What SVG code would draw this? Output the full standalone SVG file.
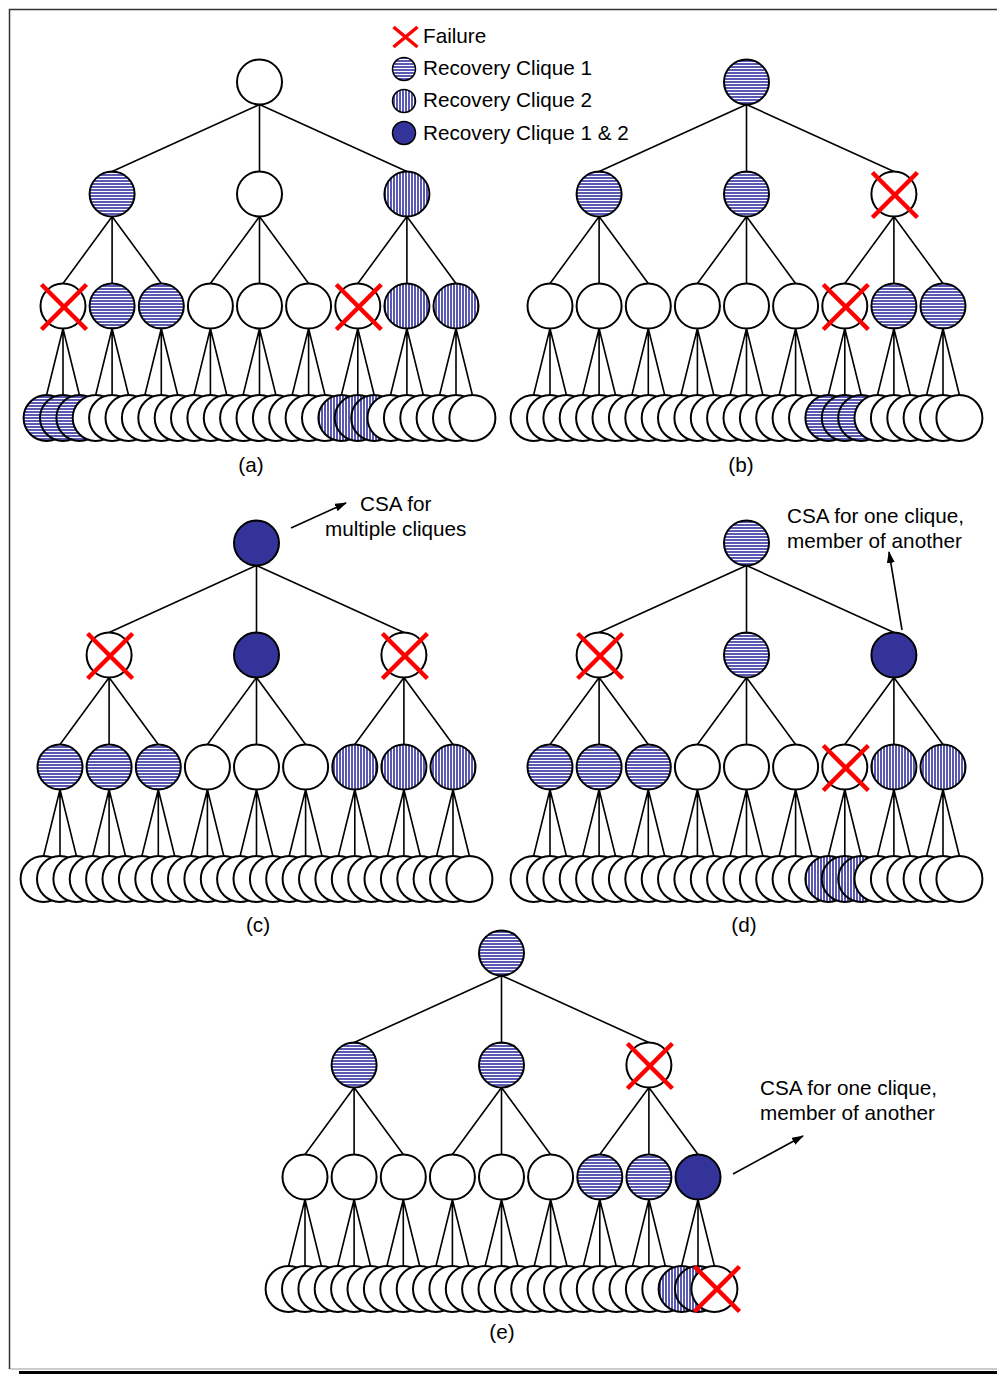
<svg xmlns="http://www.w3.org/2000/svg" xmlns:xlink="http://www.w3.org/1999/xlink" width="997" height="1374" viewBox="0 0 997 1374">
  <style>
    circle { stroke: #000; stroke-width: 2; }
    .w { fill: #fff; }
    .h { fill: url(#hstripe); }
    .v { fill: url(#vstripe); }
    .d { fill: #333399; }
    .x { stroke: #ff0000; stroke-width: 4.5; fill: none; stroke-linecap: butt; }
    .link { stroke: #000; stroke-width: 1.6; fill: none; }
    .arrow { stroke: #000; stroke-width: 1.6; fill: none; marker-end: url(#head); }
    text { font-family: "Liberation Sans", Arial, sans-serif; font-size: 20.7px; fill: #000; }
    .cap { text-anchor: middle; }
  </style>
  <defs>
    <pattern id="hstripe" width="6" height="3" patternUnits="userSpaceOnUse">
      <rect width="6" height="3" fill="#ffffff"/>
      <rect width="6" height="2" fill="#5a5ab2"/>
    </pattern>
    <pattern id="vstripe" width="3" height="6" patternUnits="userSpaceOnUse">
      <rect width="3" height="6" fill="#ffffff"/>
      <rect width="2" height="6" fill="#5a5ab2"/>
    </pattern>
    <marker id="head" viewBox="0 0 12 8" refX="11" refY="4" markerWidth="12" markerHeight="8" markerUnits="userSpaceOnUse" orient="auto">
      <path d="M0,0 L12,4 L0,8 z" fill="#000"/>
    </marker>
    <path id="fail" class="x" d="M-22.5,-22.5 L22.5,22.5 M22.5,-22.5 L-22.5,22.5"/>
    <!-- edges of one 3-ary tree of depth 3, local coordinates -->
    <path id="tree-edges" class="link" d="
      M259.5,104.5 L112.1,171.5 M259.5,104.5 V171.5 M259.5,104.5 L406.9,171.5
      M112.1,216.5 L63,283.5 M112.1,216.5 V283.5 M112.1,216.5 L161.3,283.5
      M259.5,216.5 L210.4,283.5 M259.5,216.5 V283.5 M259.5,216.5 L308.6,283.5
      M406.9,216.5 L357.8,283.5 M406.9,216.5 V283.5 M406.9,216.5 L456,283.5
      M63,328.5 L46.6,395 M63,328.5 V395 M63,328.5 L79.4,395
      M112.1,328.5 L95.7,395 M112.1,328.5 V395 M112.1,328.5 L128.5,395
      M161.3,328.5 L144.9,395 M161.3,328.5 V395 M161.3,328.5 L177.7,395
      M210.4,328.5 L194,395 M210.4,328.5 V395 M210.4,328.5 L226.8,395
      M259.5,328.5 L243.1,395 M259.5,328.5 V395 M259.5,328.5 L275.9,395
      M308.6,328.5 L292.2,395 M308.6,328.5 V395 M308.6,328.5 L325,395
      M357.8,328.5 L341.4,395 M357.8,328.5 V395 M357.8,328.5 L374.2,395
      M406.9,328.5 L390.5,395 M406.9,328.5 V395 M406.9,328.5 L423.3,395
      M456,328.5 L439.6,395 M456,328.5 V395 M456,328.5 L472.4,395"/>
  </defs>

  <!-- page frame -->
  <g id="frame">
    <path d="M9.5,1369 V9.5 H997" fill="none" stroke="#333" stroke-width="1.5"/>
    <line x1="10" y1="1369" x2="997" y2="1369" stroke="#999" stroke-width="1.2"/>
    <rect x="19" y="1371" width="978" height="3" fill="#000"/>
  </g>

  <!-- legend -->
  <g id="legend">
    <path class="x" style="stroke-width:3.5" d="M393.5,27 L417.5,47 M417.5,27 L393.5,47"/>
    <text x="423" y="43">Failure</text>
    <circle class="h" cx="404" cy="69" r="11.5" style="stroke-width:1.5"/>
    <text x="423" y="75">Recovery Clique 1</text>
    <circle class="v" cx="404" cy="101" r="11.5" style="stroke-width:1.5"/>
    <text x="423" y="107">Recovery Clique 2</text>
    <circle class="d" cx="404" cy="133" r="11.5" style="stroke-width:1.5"/>
    <text x="423" y="140">Recovery Clique 1 &amp; 2</text>
  </g>

  <!-- connectors -->
  <g id="connectors">
    <use xlink:href="#tree-edges" href="#tree-edges"/>
    <use xlink:href="#tree-edges" href="#tree-edges" transform="translate(487,0)"/>
    <use xlink:href="#tree-edges" href="#tree-edges" transform="translate(-3,461)"/>
    <use xlink:href="#tree-edges" href="#tree-edges" transform="translate(487,461)"/>
    <use xlink:href="#tree-edges" href="#tree-edges" transform="translate(242,871)"/>
    <line class="arrow" x1="291" y1="528" x2="346" y2="503"/>
    <line class="arrow" x1="902" y1="630" x2="889" y2="552"/>
    <line class="arrow" x1="733" y1="1174" x2="803" y2="1136"/>
  </g>

  <!-- tree (a) -->
  <g id="tree-a">
    <g id="a-r"><circle class="w" cx="259.5" cy="82" r="22.5"/></g>
    <g id="a-m0"><circle class="h" cx="112.1" cy="194" r="22.5"/></g>
    <g id="a-m1"><circle class="w" cx="259.5" cy="194" r="22.5"/></g>
    <g id="a-m2"><circle class="v" cx="406.9" cy="194" r="22.5"/></g>
    <g id="a-n0"><circle class="w" cx="63" cy="306" r="22.5"/><use href="#fail" xlink:href="#fail" x="64" y="307"/></g>
    <g id="a-n1"><circle class="h" cx="112.1" cy="306" r="22.5"/></g>
    <g id="a-n2"><circle class="h" cx="161.3" cy="306" r="22.5"/></g>
    <g id="a-n3"><circle class="w" cx="210.4" cy="306" r="22.5"/></g>
    <g id="a-n4"><circle class="w" cx="259.5" cy="306" r="22.5"/></g>
    <g id="a-n5"><circle class="w" cx="308.6" cy="306" r="22.5"/></g>
    <g id="a-n6"><circle class="w" cx="357.8" cy="306" r="22.5"/><use href="#fail" xlink:href="#fail" x="358.8" y="307"/></g>
    <g id="a-n7"><circle class="v" cx="406.9" cy="306" r="22.5"/></g>
    <g id="a-n8"><circle class="v" cx="456" cy="306" r="22.5"/></g>
    <g id="a-f0"><circle class="h" cx="46.6" cy="418" r="23"/></g>
    <g id="a-f1"><circle class="h" cx="63" cy="418" r="23"/></g>
    <g id="a-f2"><circle class="h" cx="79.4" cy="418" r="23"/></g>
    <g id="a-f3"><circle class="w" cx="95.7" cy="418" r="23"/></g>
    <g id="a-f4"><circle class="w" cx="112.1" cy="418" r="23"/></g>
    <g id="a-f5"><circle class="w" cx="128.5" cy="418" r="23"/></g>
    <g id="a-f6"><circle class="w" cx="144.9" cy="418" r="23"/></g>
    <g id="a-f7"><circle class="w" cx="161.3" cy="418" r="23"/></g>
    <g id="a-f8"><circle class="w" cx="177.7" cy="418" r="23"/></g>
    <g id="a-f9"><circle class="w" cx="194" cy="418" r="23"/></g>
    <g id="a-f10"><circle class="w" cx="210.4" cy="418" r="23"/></g>
    <g id="a-f11"><circle class="w" cx="226.8" cy="418" r="23"/></g>
    <g id="a-f12"><circle class="w" cx="243.1" cy="418" r="23"/></g>
    <g id="a-f13"><circle class="w" cx="259.5" cy="418" r="23"/></g>
    <g id="a-f14"><circle class="w" cx="275.9" cy="418" r="23"/></g>
    <g id="a-f15"><circle class="w" cx="292.2" cy="418" r="23"/></g>
    <g id="a-f16"><circle class="w" cx="308.6" cy="418" r="23"/></g>
    <g id="a-f17"><circle class="w" cx="325" cy="418" r="23"/></g>
    <g id="a-f18"><circle class="v" cx="341.4" cy="418" r="23"/></g>
    <g id="a-f19"><circle class="v" cx="357.8" cy="418" r="23"/></g>
    <g id="a-f20"><circle class="v" cx="374.2" cy="418" r="23"/></g>
    <g id="a-f21"><circle class="w" cx="390.5" cy="418" r="23"/></g>
    <g id="a-f22"><circle class="w" cx="406.9" cy="418" r="23"/></g>
    <g id="a-f23"><circle class="w" cx="423.3" cy="418" r="23"/></g>
    <g id="a-f24"><circle class="w" cx="439.6" cy="418" r="23"/></g>
    <g id="a-f25"><circle class="w" cx="456" cy="418" r="23"/></g>
    <g id="a-f26"><circle class="w" cx="472.4" cy="418" r="23"/></g>
    <text class="cap" x="251" y="472">(a)</text>
  </g>

  <!-- tree (b) -->
  <g id="tree-b" transform="translate(487,0)">
    <g id="b-r"><circle class="h" cx="259.5" cy="82" r="22.5"/></g>
    <g id="b-m0"><circle class="h" cx="112.1" cy="194" r="22.5"/></g>
    <g id="b-m1"><circle class="h" cx="259.5" cy="194" r="22.5"/></g>
    <g id="b-m2"><circle class="w" cx="406.9" cy="194" r="22.5"/><use href="#fail" xlink:href="#fail" x="407.9" y="195"/></g>
    <g id="b-n0"><circle class="w" cx="63" cy="306" r="22.5"/></g>
    <g id="b-n1"><circle class="w" cx="112.1" cy="306" r="22.5"/></g>
    <g id="b-n2"><circle class="w" cx="161.3" cy="306" r="22.5"/></g>
    <g id="b-n3"><circle class="w" cx="210.4" cy="306" r="22.5"/></g>
    <g id="b-n4"><circle class="w" cx="259.5" cy="306" r="22.5"/></g>
    <g id="b-n5"><circle class="w" cx="308.6" cy="306" r="22.5"/></g>
    <g id="b-n6"><circle class="w" cx="357.8" cy="306" r="22.5"/><use href="#fail" xlink:href="#fail" x="358.8" y="307"/></g>
    <g id="b-n7"><circle class="h" cx="406.9" cy="306" r="22.5"/></g>
    <g id="b-n8"><circle class="h" cx="456" cy="306" r="22.5"/></g>
    <g id="b-f0"><circle class="w" cx="46.6" cy="418" r="23"/></g>
    <g id="b-f1"><circle class="w" cx="63" cy="418" r="23"/></g>
    <g id="b-f2"><circle class="w" cx="79.4" cy="418" r="23"/></g>
    <g id="b-f3"><circle class="w" cx="95.7" cy="418" r="23"/></g>
    <g id="b-f4"><circle class="w" cx="112.1" cy="418" r="23"/></g>
    <g id="b-f5"><circle class="w" cx="128.5" cy="418" r="23"/></g>
    <g id="b-f6"><circle class="w" cx="144.9" cy="418" r="23"/></g>
    <g id="b-f7"><circle class="w" cx="161.3" cy="418" r="23"/></g>
    <g id="b-f8"><circle class="w" cx="177.7" cy="418" r="23"/></g>
    <g id="b-f9"><circle class="w" cx="194" cy="418" r="23"/></g>
    <g id="b-f10"><circle class="w" cx="210.4" cy="418" r="23"/></g>
    <g id="b-f11"><circle class="w" cx="226.8" cy="418" r="23"/></g>
    <g id="b-f12"><circle class="w" cx="243.1" cy="418" r="23"/></g>
    <g id="b-f13"><circle class="w" cx="259.5" cy="418" r="23"/></g>
    <g id="b-f14"><circle class="w" cx="275.9" cy="418" r="23"/></g>
    <g id="b-f15"><circle class="w" cx="292.2" cy="418" r="23"/></g>
    <g id="b-f16"><circle class="w" cx="308.6" cy="418" r="23"/></g>
    <g id="b-f17"><circle class="w" cx="325" cy="418" r="23"/></g>
    <g id="b-f18"><circle class="h" cx="341.4" cy="418" r="23"/></g>
    <g id="b-f19"><circle class="h" cx="357.8" cy="418" r="23"/></g>
    <g id="b-f20"><circle class="h" cx="374.2" cy="418" r="23"/></g>
    <g id="b-f21"><circle class="w" cx="390.5" cy="418" r="23"/></g>
    <g id="b-f22"><circle class="w" cx="406.9" cy="418" r="23"/></g>
    <g id="b-f23"><circle class="w" cx="423.3" cy="418" r="23"/></g>
    <g id="b-f24"><circle class="w" cx="439.6" cy="418" r="23"/></g>
    <g id="b-f25"><circle class="w" cx="456" cy="418" r="23"/></g>
    <g id="b-f26"><circle class="w" cx="472.4" cy="418" r="23"/></g>
    <text class="cap" x="254" y="472">(b)</text>
  </g>

  <!-- tree (c) -->
  <g id="tree-c" transform="translate(-3,461)">
    <g id="c-r"><circle class="d" cx="259.5" cy="82" r="22.5"/></g>
    <g id="c-m0"><circle class="w" cx="112.1" cy="194" r="22.5"/><use href="#fail" xlink:href="#fail" x="113.1" y="195"/></g>
    <g id="c-m1"><circle class="d" cx="259.5" cy="194" r="22.5"/></g>
    <g id="c-m2"><circle class="w" cx="406.9" cy="194" r="22.5"/><use href="#fail" xlink:href="#fail" x="407.9" y="195"/></g>
    <g id="c-n0"><circle class="h" cx="63" cy="306" r="22.5"/></g>
    <g id="c-n1"><circle class="h" cx="112.1" cy="306" r="22.5"/></g>
    <g id="c-n2"><circle class="h" cx="161.3" cy="306" r="22.5"/></g>
    <g id="c-n3"><circle class="w" cx="210.4" cy="306" r="22.5"/></g>
    <g id="c-n4"><circle class="w" cx="259.5" cy="306" r="22.5"/></g>
    <g id="c-n5"><circle class="w" cx="308.6" cy="306" r="22.5"/></g>
    <g id="c-n6"><circle class="v" cx="357.8" cy="306" r="22.5"/></g>
    <g id="c-n7"><circle class="v" cx="406.9" cy="306" r="22.5"/></g>
    <g id="c-n8"><circle class="v" cx="456" cy="306" r="22.5"/></g>
    <g id="c-f0"><circle class="w" cx="46.6" cy="418" r="23"/></g>
    <g id="c-f1"><circle class="w" cx="63" cy="418" r="23"/></g>
    <g id="c-f2"><circle class="w" cx="79.4" cy="418" r="23"/></g>
    <g id="c-f3"><circle class="w" cx="95.7" cy="418" r="23"/></g>
    <g id="c-f4"><circle class="w" cx="112.1" cy="418" r="23"/></g>
    <g id="c-f5"><circle class="w" cx="128.5" cy="418" r="23"/></g>
    <g id="c-f6"><circle class="w" cx="144.9" cy="418" r="23"/></g>
    <g id="c-f7"><circle class="w" cx="161.3" cy="418" r="23"/></g>
    <g id="c-f8"><circle class="w" cx="177.7" cy="418" r="23"/></g>
    <g id="c-f9"><circle class="w" cx="194" cy="418" r="23"/></g>
    <g id="c-f10"><circle class="w" cx="210.4" cy="418" r="23"/></g>
    <g id="c-f11"><circle class="w" cx="226.8" cy="418" r="23"/></g>
    <g id="c-f12"><circle class="w" cx="243.1" cy="418" r="23"/></g>
    <g id="c-f13"><circle class="w" cx="259.5" cy="418" r="23"/></g>
    <g id="c-f14"><circle class="w" cx="275.9" cy="418" r="23"/></g>
    <g id="c-f15"><circle class="w" cx="292.2" cy="418" r="23"/></g>
    <g id="c-f16"><circle class="w" cx="308.6" cy="418" r="23"/></g>
    <g id="c-f17"><circle class="w" cx="325" cy="418" r="23"/></g>
    <g id="c-f18"><circle class="w" cx="341.4" cy="418" r="23"/></g>
    <g id="c-f19"><circle class="w" cx="357.8" cy="418" r="23"/></g>
    <g id="c-f20"><circle class="w" cx="374.2" cy="418" r="23"/></g>
    <g id="c-f21"><circle class="w" cx="390.5" cy="418" r="23"/></g>
    <g id="c-f22"><circle class="w" cx="406.9" cy="418" r="23"/></g>
    <g id="c-f23"><circle class="w" cx="423.3" cy="418" r="23"/></g>
    <g id="c-f24"><circle class="w" cx="439.6" cy="418" r="23"/></g>
    <g id="c-f25"><circle class="w" cx="456" cy="418" r="23"/></g>
    <g id="c-f26"><circle class="w" cx="472.4" cy="418" r="23"/></g>
    <text class="cap" x="261" y="471">(c)</text>
  </g>

  <!-- tree (d) -->
  <g id="tree-d" transform="translate(487,461)">
    <g id="d-r"><circle class="h" cx="259.5" cy="82" r="22.5"/></g>
    <g id="d-m0"><circle class="w" cx="112.1" cy="194" r="22.5"/><use href="#fail" xlink:href="#fail" x="113.1" y="195"/></g>
    <g id="d-m1"><circle class="h" cx="259.5" cy="194" r="22.5"/></g>
    <g id="d-m2"><circle class="d" cx="406.9" cy="194" r="22.5"/></g>
    <g id="d-n0"><circle class="h" cx="63" cy="306" r="22.5"/></g>
    <g id="d-n1"><circle class="h" cx="112.1" cy="306" r="22.5"/></g>
    <g id="d-n2"><circle class="h" cx="161.3" cy="306" r="22.5"/></g>
    <g id="d-n3"><circle class="w" cx="210.4" cy="306" r="22.5"/></g>
    <g id="d-n4"><circle class="w" cx="259.5" cy="306" r="22.5"/></g>
    <g id="d-n5"><circle class="w" cx="308.6" cy="306" r="22.5"/></g>
    <g id="d-n6"><circle class="w" cx="357.8" cy="306" r="22.5"/><use href="#fail" xlink:href="#fail" x="358.8" y="307"/></g>
    <g id="d-n7"><circle class="v" cx="406.9" cy="306" r="22.5"/></g>
    <g id="d-n8"><circle class="v" cx="456" cy="306" r="22.5"/></g>
    <g id="d-f0"><circle class="w" cx="46.6" cy="418" r="23"/></g>
    <g id="d-f1"><circle class="w" cx="63" cy="418" r="23"/></g>
    <g id="d-f2"><circle class="w" cx="79.4" cy="418" r="23"/></g>
    <g id="d-f3"><circle class="w" cx="95.7" cy="418" r="23"/></g>
    <g id="d-f4"><circle class="w" cx="112.1" cy="418" r="23"/></g>
    <g id="d-f5"><circle class="w" cx="128.5" cy="418" r="23"/></g>
    <g id="d-f6"><circle class="w" cx="144.9" cy="418" r="23"/></g>
    <g id="d-f7"><circle class="w" cx="161.3" cy="418" r="23"/></g>
    <g id="d-f8"><circle class="w" cx="177.7" cy="418" r="23"/></g>
    <g id="d-f9"><circle class="w" cx="194" cy="418" r="23"/></g>
    <g id="d-f10"><circle class="w" cx="210.4" cy="418" r="23"/></g>
    <g id="d-f11"><circle class="w" cx="226.8" cy="418" r="23"/></g>
    <g id="d-f12"><circle class="w" cx="243.1" cy="418" r="23"/></g>
    <g id="d-f13"><circle class="w" cx="259.5" cy="418" r="23"/></g>
    <g id="d-f14"><circle class="w" cx="275.9" cy="418" r="23"/></g>
    <g id="d-f15"><circle class="w" cx="292.2" cy="418" r="23"/></g>
    <g id="d-f16"><circle class="w" cx="308.6" cy="418" r="23"/></g>
    <g id="d-f17"><circle class="w" cx="325" cy="418" r="23"/></g>
    <g id="d-f18"><circle class="v" cx="341.4" cy="418" r="23"/></g>
    <g id="d-f19"><circle class="v" cx="357.8" cy="418" r="23"/></g>
    <g id="d-f20"><circle class="v" cx="374.2" cy="418" r="23"/></g>
    <g id="d-f21"><circle class="w" cx="390.5" cy="418" r="23"/></g>
    <g id="d-f22"><circle class="w" cx="406.9" cy="418" r="23"/></g>
    <g id="d-f23"><circle class="w" cx="423.3" cy="418" r="23"/></g>
    <g id="d-f24"><circle class="w" cx="439.6" cy="418" r="23"/></g>
    <g id="d-f25"><circle class="w" cx="456" cy="418" r="23"/></g>
    <g id="d-f26"><circle class="w" cx="472.4" cy="418" r="23"/></g>
    <text class="cap" x="257" y="471">(d)</text>
  </g>

  <!-- tree (e) -->
  <g id="tree-e" transform="translate(242,871)">
    <g id="e-r"><circle class="h" cx="259.5" cy="82" r="22.5"/></g>
    <g id="e-m0"><circle class="h" cx="112.1" cy="194" r="22.5"/></g>
    <g id="e-m1"><circle class="h" cx="259.5" cy="194" r="22.5"/></g>
    <g id="e-m2"><circle class="w" cx="406.9" cy="194" r="22.5"/><use href="#fail" xlink:href="#fail" x="407.9" y="195"/></g>
    <g id="e-n0"><circle class="w" cx="63" cy="306" r="22.5"/></g>
    <g id="e-n1"><circle class="w" cx="112.1" cy="306" r="22.5"/></g>
    <g id="e-n2"><circle class="w" cx="161.3" cy="306" r="22.5"/></g>
    <g id="e-n3"><circle class="w" cx="210.4" cy="306" r="22.5"/></g>
    <g id="e-n4"><circle class="w" cx="259.5" cy="306" r="22.5"/></g>
    <g id="e-n5"><circle class="w" cx="308.6" cy="306" r="22.5"/></g>
    <g id="e-n6"><circle class="h" cx="357.8" cy="306" r="22.5"/></g>
    <g id="e-n7"><circle class="h" cx="406.9" cy="306" r="22.5"/></g>
    <g id="e-n8"><circle class="d" cx="456" cy="306" r="22.5"/></g>
    <g id="e-f0"><circle class="w" cx="46.6" cy="418" r="23"/></g>
    <g id="e-f1"><circle class="w" cx="63" cy="418" r="23"/></g>
    <g id="e-f2"><circle class="w" cx="79.4" cy="418" r="23"/></g>
    <g id="e-f3"><circle class="w" cx="95.7" cy="418" r="23"/></g>
    <g id="e-f4"><circle class="w" cx="112.1" cy="418" r="23"/></g>
    <g id="e-f5"><circle class="w" cx="128.5" cy="418" r="23"/></g>
    <g id="e-f6"><circle class="w" cx="144.9" cy="418" r="23"/></g>
    <g id="e-f7"><circle class="w" cx="161.3" cy="418" r="23"/></g>
    <g id="e-f8"><circle class="w" cx="177.7" cy="418" r="23"/></g>
    <g id="e-f9"><circle class="w" cx="194" cy="418" r="23"/></g>
    <g id="e-f10"><circle class="w" cx="210.4" cy="418" r="23"/></g>
    <g id="e-f11"><circle class="w" cx="226.8" cy="418" r="23"/></g>
    <g id="e-f12"><circle class="w" cx="243.1" cy="418" r="23"/></g>
    <g id="e-f13"><circle class="w" cx="259.5" cy="418" r="23"/></g>
    <g id="e-f14"><circle class="w" cx="275.9" cy="418" r="23"/></g>
    <g id="e-f15"><circle class="w" cx="292.2" cy="418" r="23"/></g>
    <g id="e-f16"><circle class="w" cx="308.6" cy="418" r="23"/></g>
    <g id="e-f17"><circle class="w" cx="325" cy="418" r="23"/></g>
    <g id="e-f18"><circle class="w" cx="341.4" cy="418" r="23"/></g>
    <g id="e-f19"><circle class="w" cx="357.8" cy="418" r="23"/></g>
    <g id="e-f20"><circle class="w" cx="374.2" cy="418" r="23"/></g>
    <g id="e-f21"><circle class="w" cx="390.5" cy="418" r="23"/></g>
    <g id="e-f22"><circle class="w" cx="406.9" cy="418" r="23"/></g>
    <g id="e-f23"><circle class="w" cx="423.3" cy="418" r="23"/></g>
    <g id="e-f24"><circle class="v" cx="439.6" cy="418" r="23"/></g>
    <g id="e-f25"><circle class="v" cx="456" cy="418" r="23"/></g>
    <g id="e-f26"><circle class="w" cx="472.4" cy="418" r="23"/><use href="#fail" xlink:href="#fail" x="475" y="418"/></g>
    <text class="cap" x="260" y="468">(e)</text>
  </g>

  <!-- annotations -->
  <g id="notes">
    <text x="360" y="511">CSA for</text>
    <text x="325" y="536">multiple cliques</text>
    <text x="787" y="523">CSA for one clique,</text>
    <text x="787" y="548">member of another</text>
    <text x="760" y="1095">CSA for one clique,</text>
    <text x="760" y="1120">member of another</text>
  </g>
</svg>
